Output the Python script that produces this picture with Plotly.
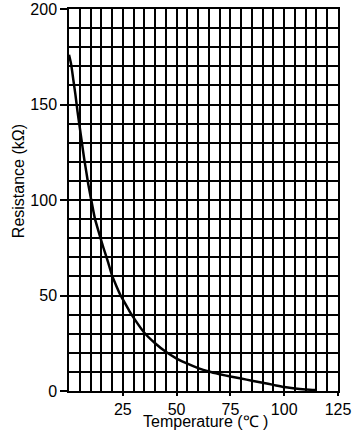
import plotly.graph_objects as go

temperature = [0, 1, 2, 3, 4, 5, 6, 7, 8, 9, 10, 12, 14, 16, 18, 20, 22, 24, 26, 28, 30,
               35, 40, 45, 50, 55, 60, 65, 70, 75, 80, 85, 90, 95, 100, 105, 110, 115]
resistance = [176, 171, 163, 155, 146, 138, 130, 122, 115, 108, 102, 90.5, 82.5, 75, 68,
              60.5, 55, 50, 46, 42, 38.4, 30.5, 25, 20.5, 17, 14.3, 12, 10.2, 8.8, 7.6,
              6.5, 5.4, 4.3, 3.2, 2.1, 1.3, 0.8, 0.5]

x_ticks = [25, 50, 75, 100, 125]
y_ticks = [0, 50, 100, 150, 200]

fig = go.Figure()
fig.add_trace(go.Scatter(
    x=temperature, y=resistance, mode="lines",
    line=dict(color="black", width=2.5, shape="spline", smoothing=0.6),
    showlegend=False, hoverinfo="skip",
))

font = dict(family="Liberation Sans, Arial, sans-serif", size=16, color="black")

fig.update_layout(
    width=363, height=432,
    margin=dict(l=69, r=25, t=9, b=41),
    paper_bgcolor="white", plot_bgcolor="white",
    font=font,
    xaxis=dict(
        range=[0, 125], tickvals=x_ticks, ticks="outside", ticklen=3, tickwidth=1.5,
        tickcolor="black", showline=True, linecolor="black", linewidth=1.5, mirror=True,
        showgrid=True, gridcolor="black", gridwidth=1.5,
        minor=dict(dtick=5, tick0=0, showgrid=True, gridcolor="black", gridwidth=1.5, ticks=""),
        zeroline=False, tickfont=font, automargin=False,
    ),
    yaxis=dict(
        range=[0, 200], tickvals=y_ticks, ticks="outside", ticklen=7, tickwidth=1.5,
        tickcolor="black", showline=True, linecolor="black", linewidth=1.5, mirror=True,
        showgrid=True, gridcolor="black", gridwidth=1.5,
        minor=dict(dtick=10, tick0=0, showgrid=True, gridcolor="black", gridwidth=1.5, ticks=""),
        zeroline=False, tickfont=font, automargin=False,
    ),
    annotations=[
        dict(text="Resistance (kΩ)", xref="paper", yref="paper", x=-0.185, y=0.55,
             xanchor="center", yanchor="middle", textangle=-90, showarrow=False, font=font),
        dict(text="Temperature (℃ )", xref="paper", yref="paper", x=0.509, y=-0.08,
             xanchor="center", yanchor="middle", showarrow=False, font=font),
    ],
)

fig.write_html("out.html", config={"displayModeBar": False},
               post_script="document.body.style.margin='0';")
